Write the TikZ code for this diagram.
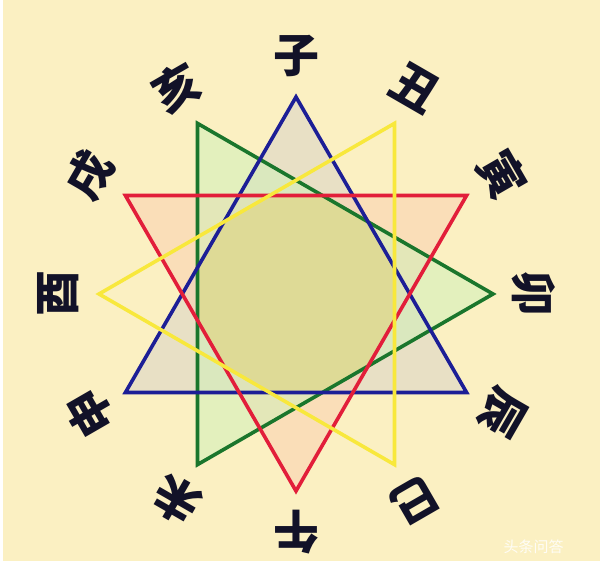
\documentclass[tikz,border=0pt]{standalone}
\usepackage{fontspec}
\newfontfamily\cjk{Noto Sans CJK SC}
\usetikzlibrary{calc}
\definecolor{bgc}{RGB}{251,240,194}
\definecolor{bluel}{RGB}{28,30,150}
\definecolor{redl}{RGB}{226,30,58}
\definecolor{greenl}{RGB}{26,118,44}
\definecolor{yellowl}{RGB}{248,232,60}
\definecolor{bluef}{RGB}{214,210,200}
\definecolor{redf}{RGB}{250,205,175}
\definecolor{greenf}{RGB}{205,240,185}
\definecolor{olive}{RGB}{222,218,150}
\definecolor{ink}{RGB}{18,18,40}
\tikzset{
  tri/.style={line width=3.6pt, line join=miter},
  trifill/.style={fill opacity=0.5},
  branch/.style={font=\cjk\bfseries\fontsize{46}{46}\selectfont, text=ink, inner sep=0pt},
}
\begin{document}
\begin{tikzpicture}[x=1pt,y=1pt]
\fill[white] (0,0) rectangle (610,561);
\fill[bgc] (3,0) rectangle (600,561);
\useasboundingbox (0,0) rectangle (610,561);
\coordinate (C) at (296,267);
\foreach \i in {0,...,11} {
  \coordinate (v\i) at ($(C)+({90-30*\i}:197)$);
}
% fills
\fill[bluef, trifill] (v0) -- (v4) -- (v8) -- cycle;
\fill[redf, trifill] (v2) -- (v6) -- (v10) -- cycle;
\fill[greenf, trifill] (v3) -- (v7) -- (v11) -- cycle;
\fill[olive] (C) circle (100);
% outlines
\draw[tri, greenl] (v3) -- (v7) -- (v11) -- cycle;
\draw[tri, bluel] (v0) -- (v4) -- (v8) -- cycle;
\draw[tri, redl] (v2) -- (v6) -- (v10) -- cycle;
\draw[tri, yellowl] (v1) -- (v5) -- (v9) -- cycle;
% labels
\foreach \i/\t in {0/子,1/丑,2/寅,3/卯,4/辰,5/巳,6/午,7/未,8/申,9/酉,10/戌,11/亥} {
  \node[branch, rotate={-30*\i}] (b\i) at ($(C)+({90-30*\i}:238)$) {\t};
}
% watermark
\node[text=white, opacity=0.85, font=\cjk\fontsize{15}{15}\selectfont, anchor=west] (wm) at (500,14) {头条问答};
\end{tikzpicture}
\end{document}
